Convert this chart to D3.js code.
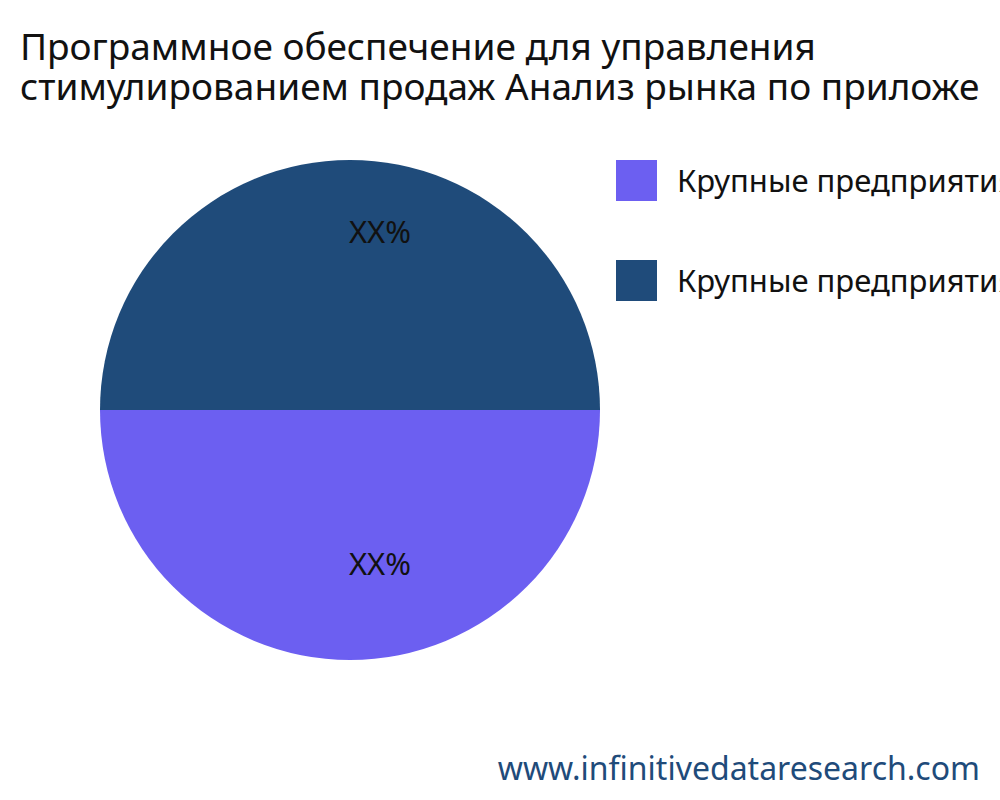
<!DOCTYPE html>
<html><head><meta charset="utf-8">
<script src="https://cdn.jsdelivr.net/npm/d3@7"></script>
<style>body{margin:0;background:#fff;overflow:hidden}text{font-family:"Noto Sans","Open Sans",sans-serif}</style>
</head><body><svg id="c" width="1000" height="800"></svg>
<script>
const titleLines = ["Программное обеспечение для управления", "стимулированием продаж Анализ рынка по приложе"];
const categories = ["Крупные предприятия", "Крупные предприятия"];
const values = [50, 50];
const labels = ["XX%", "XX%"];
const colors = ["#6c5ff1", "#1f4b7a"];

const svg = d3.select("#c");
svg.append("rect").attr("width",1000).attr("height",800).attr("fill","#fff");
const t = svg.append("text").attr("x",20).attr("y",60).attr("font-size",37).attr("fill","#111");
titleLines.forEach((l,i)=>t.append("tspan").attr("x",20).attr("dy",i?40:0).text(l));

const pie = d3.pie().sort(null).startAngle(Math.PI/2).endAngle(Math.PI*2.5);
const arc = d3.arc().innerRadius(0).outerRadius(250);
const lab = d3.arc().innerRadius(166).outerRadius(166);
const g = svg.append("g").attr("transform","translate(350,410)");
const arcs = pie(values);
g.selectAll("path").data(arcs).join("path").attr("d",arc).attr("fill",(d,i)=>colors[i]);
g.selectAll("text").data(arcs).join("text")
  .attr("transform",d=>{const c=lab.centroid(d);return `translate(${c[0]+30},${c[1]-12})`;})
  .attr("text-anchor","middle").attr("dy","0.35em").attr("font-size",31).attr("fill","#111")
  .text((d,i)=>labels[i]);

const lg = svg.append("g").attr("transform","translate(616,160)");
categories.forEach((c,i)=>{
  const row = lg.append("g").attr("transform",`translate(0,${i*100})`);
  row.append("rect").attr("width",41).attr("height",41).attr("fill",colors[i]);
  row.append("text").attr("x",61).attr("y",21).attr("dy","0.35em").attr("font-size",31).attr("fill","#111").text(c);
});

svg.append("text").attr("x",980).attr("y",780).attr("text-anchor","end").attr("font-size",32)
  .attr("fill","#1f4b7a").text("www.infinitivedataresearch.com");
</script></body></html>
